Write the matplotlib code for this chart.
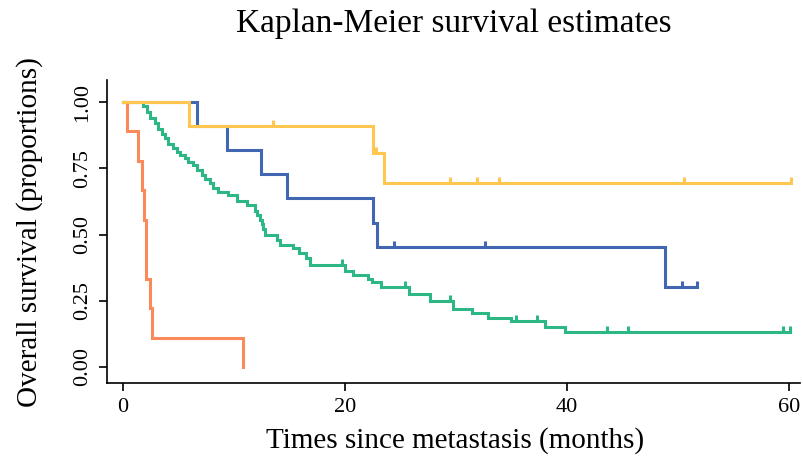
import numpy as np
import matplotlib
matplotlib.use("Agg")
import matplotlib.pyplot as plt

# ---- data ----
orange_t = [0, 0.36, 1.32, 1.71, 1.86, 2.05, 2.43, 2.6, 10.8]
orange_s = [1.0, 0.889, 0.778, 0.667, 0.556, 0.333, 0.222, 0.111, 0.0]
orange_end = 10.8
orange_cens = []

blue_t = [0, 6.64, 9.34, 12.43, 14.8, 22.5, 22.85, 48.8]
blue_s = [1.0, 0.909, 0.818, 0.727, 0.636, 0.545, 0.4545, 0.303]
blue_end = 51.7
blue_cens = [24.4, 32.6, 50.4, 51.7]

yellow_t = [0, 5.98, 22.5, 23.5]
yellow_s = [1.0, 0.909, 0.808, 0.693]
yellow_end = 60.2
yellow_cens = [13.5, 22.8, 29.5, 31.9, 33.9, 50.5, 60.2]

green_t = [0, 1.83, 2.14, 2.43, 2.88, 3.18, 3.49, 3.78, 4.08, 4.53, 4.84,
           5.14, 5.59, 5.88, 6.33, 6.64, 7.09, 7.39, 7.84, 8.14, 8.59, 9.5,
           10.24, 11.2, 11.9, 12.1, 12.3, 12.5, 12.65, 12.8, 13.85, 14.1,
           15.3, 15.9, 16.5, 16.85, 20.0, 20.7, 22.1, 22.4, 23.2, 25.8, 27.7,
           29.7, 31.4, 32.9, 35.0, 38.0, 39.8]
green_s = [1.0, 0.985, 0.962, 0.94, 0.92, 0.90, 0.878, 0.863, 0.842, 0.825,
           0.812, 0.80, 0.787, 0.775, 0.762, 0.745, 0.726, 0.708, 0.693, 0.676,
           0.661, 0.649, 0.625, 0.612, 0.59, 0.572, 0.555, 0.54, 0.52, 0.50,
           0.478, 0.46, 0.449, 0.43, 0.41, 0.385, 0.362, 0.347, 0.332, 0.321,
           0.302, 0.275, 0.25, 0.218, 0.203, 0.184, 0.174, 0.152, 0.132]
green_end = 60.1
green_cens = [16.85, 19.7, 25.4, 29.5, 35.4, 37.3, 43.6, 45.5, 59.5, 60.1]

groups = [
    (green_t, green_s, green_end, green_cens, "#2DB784"),
    (orange_t, orange_s, orange_end, orange_cens, "#FA8A5A"),
    (blue_t, blue_s, blue_end, blue_cens, "#4267B2"),
    (yellow_t, yellow_s, yellow_end, yellow_cens, "#FFC650"),
]

x_ticks = [0, 20, 40, 60]
y_ticks = [0.0, 0.25, 0.5, 0.75, 1.0]
y_ticklabels = ["0.00", "0.25", "0.50", "0.75", "1.00"]

plt.rcParams['font.family'] = ['Liberation Serif', 'DejaVu Serif']

W, H = 804, 467
fig = plt.figure(figsize=(W/100, H/100), dpi=100)
ax_l, ax_r, ax_t, ax_b = 107, 800, 80, 383
ax = fig.add_axes([ax_l/W, 1-ax_b/H, (ax_r-ax_l)/W, (ax_b-ax_t)/H])

lw = 2.2
for t, s, end, cens, col in groups:
    tt = list(t) + [end]
    ss = list(s) + [s[-1]]
    ax.step(tt, ss, where='post', color=col, lw=lw, solid_joinstyle='miter')
    if cens:
        idx = np.searchsorted(np.array(t), np.array(cens), side='right') - 1
        cy = np.array(s)[idx]
        ax.plot(cens, cy, linestyle='none', marker=2, markersize=4.5,
                markeredgewidth=lw, color=col)

# data: x=0 at px 123, 11.1 px per month; y=0 at px 367, y=1 at px 102
ax.set_xlim((ax_l-123)/11.1, (ax_r-123)/11.1)
ax.set_ylim((367-ax_b)/265, (367-ax_t)/265)
ax.set_xticks(x_ticks)
ax.set_yticks(y_ticks)
ax.set_yticklabels(y_ticklabels, rotation=90, va='center')
ax.tick_params(axis='both', direction='out', length=6, width=1.2,
               labelsize=16, pad=5)
for side in ['top', 'right']:
    ax.spines[side].set_visible(False)
for side in ['left', 'bottom']:
    ax.spines[side].set_linewidth(1.2)

fig.text(455/W, 1-441/H, "Times since metastasis (months)", fontsize=21,
         ha='center', va='center')
fig.text(30/W, 1-232/H, "Overall survival (proportions)", fontsize=21,
         ha='center', va='center', rotation=90)
fig.text(454/W, 1-24/H, "Kaplan-Meier survival estimates", fontsize=24,
         ha='center', va='center')

fig.savefig("out.png", dpi=100)
